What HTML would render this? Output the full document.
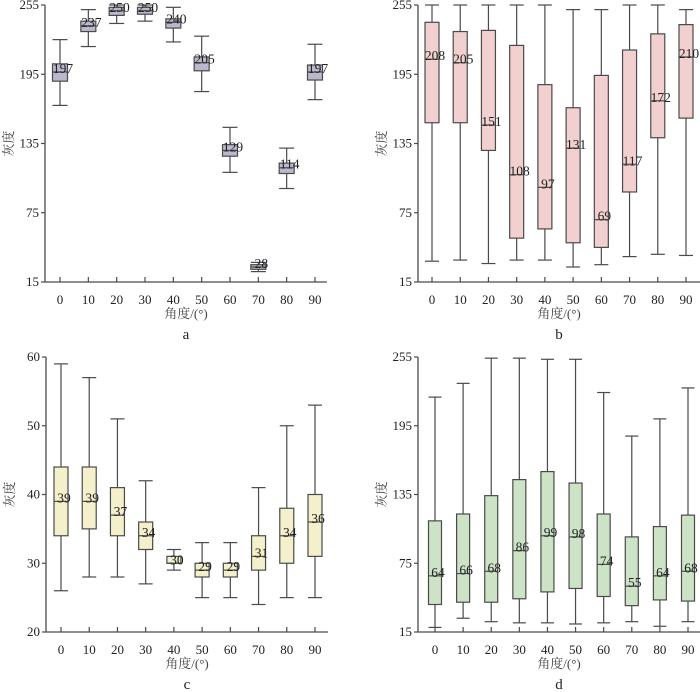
<!DOCTYPE html>
<html><head><meta charset="utf-8"><style>
html,body{margin:0;padding:0;background:#fff;}
svg{display:block;font-family:"Liberation Serif","Noto Serif CJK SC",serif;}
</style></head><body>
<svg id="chart" width="700" height="692" viewBox="0 0 700 692" xmlns="http://www.w3.org/2000/svg"></svg>
<script>
const categories = ["0","10","20","30","40","50","60","70","80","90"];
// panel a
const aHigh = [225,251,255,255,253,228,149,32,131,221];
const aQ3   = [204,241,253,253,243,210,134,30,118,203];
const aMed  = [197,237,250,250,240,205,129,28,114,197];
const aQ1   = [189,232,246,247,235,198,124,26,109,190];
const aLow  = [168,219,239,241,223,180,110,24,96,173];
const aTicks = [15,75,135,195,255];
// panel b
const bHigh = [255,255,255,255,255,251,251,255,255,251];
const bQ3   = [240,232,233,220,186,166,194,216,230,238];
const bMed  = [208,205,151,108,97,131,69,117,172,210];
const bQ1   = [153,153,129,53,61,49,45,93,140,157];
const bLow  = [33,34,31,34,34,28,30,37,39,38];
const bTicks = [15,75,135,195,255];
// panel c
const cHigh = [59,57,51,42,32,33,33,41,50,53];
const cQ3   = [44,44,41,36,31,30,30,34,38,40];
const cMed  = [39,39,37,34,30,29,29,31,34,36];
const cQ1   = [34,35,34,32,30,28,28,29,30,31];
const cLow  = [26,28,28,27,29,25,25,24,25,25];
const cTicks = [20,30,40,50,60];
// panel d
const dHigh = [220,232,254,254,253,253,224,186,201,228];
const dQ3   = [112,118,134,148,155,145,118,98,107,117];
const dMed  = [64,66,68,86,99,98,74,55,64,68];
const dQ1   = [39,41,41,44,50,53,46,38,43,42];
const dLow  = [19,27,24,23,23,22,23,24,20,24];
const dTicks = [15,75,135,195,255];

const svg = document.getElementById('chart');
const NS = 'http://www.w3.org/2000/svg';
function mk(tag, attrs, parent){
  const e = document.createElementNS(NS, tag);
  for (const k in attrs) e.setAttribute(k, attrs[k]);
  parent.appendChild(e);
  return e;
}
function panel(p){
  const g = mk('g', {}, svg);
  
  
  const y = v => p.yBot - (v - p.vMin) / (p.vMax - p.vMin) * (p.yBot - p.yTop);
  const x = i => p.x0 + i * (p.x9 - p.x0) / (categories.length - 1);
  const stroke = '#4a4a4a';
  const ya = mk('line', {x1:p.ax, y1:p.yTop, x2:p.ax, y2:p.yBot, stroke:stroke, 'stroke-width':1.3}, g);
  
  
  const xa = mk('line', {x1:p.ax, y1:p.yBot, x2:p.axEnd, y2:p.yBot, stroke:stroke, 'stroke-width':1.3}, g);
  
  
  p.ticks.forEach(t => {
    mk('line', {x1:p.ax-4, y1:y(t), x2:p.ax, y2:y(t), stroke:stroke, 'stroke-width':1.2}, g);
    const tl = mk('text', {x:p.ax-6, y:y(t)+4, 'text-anchor':'end', 'font-size':13, fill:'#222'}, g);
    tl.textContent = t;
    
    
  });
  categories.forEach((c, i) => {
    mk('line', {x1:x(i), y1:p.yBot-5, x2:x(i), y2:p.yBot, stroke:stroke, 'stroke-width':1.2}, g);
    const tl = mk('text', {x:x(i), y:p.yBot+22, 'text-anchor':'middle', 'font-size':13, fill:'#222'}, g);
    tl.textContent = c;
    
    
  });
  const xl = mk('text', {x:(p.ax+p.axEnd)/2, y:p.yBot+36, 'text-anchor':'middle', 'font-size':13, fill:'#444'}, g);
  xl.textContent = '角度/(°)';
  
  
  const yl = mk('text', {x:0, y:0, 'text-anchor':'middle', 'font-size':13, fill:'#444', transform:`translate(${p.ax-32},${(p.yTop+p.yBot)/2}) rotate(-90)`}, g);
  yl.textContent = '灰度';
  
  
  const cap = mk('text', {x:(p.ax+p.axEnd)/2, y:p.yBot+57, 'text-anchor':'middle', 'font-size':15, fill:'#222'}, g);
  cap.textContent = p.id;
  
  
  const bw = p.bw;
  categories.forEach((c, i) => {
    const bg = mk('g', {}, g);
    
    
    const cx = x(i);
    mk('line', {x1:cx, y1:y(p.high[i]), x2:cx, y2:y(p.low[i]), stroke:stroke, 'stroke-width':1.2}, bg);
    mk('line', {x1:cx-bw/2, y1:y(p.high[i]), x2:cx+bw/2, y2:y(p.high[i]), stroke:stroke, 'stroke-width':1.2}, bg);
    mk('line', {x1:cx-bw/2, y1:y(p.low[i]), x2:cx+bw/2, y2:y(p.low[i]), stroke:stroke, 'stroke-width':1.2}, bg);
    mk('rect', {x:cx-bw/2, y:y(p.q3[i]), width:bw, height:Math.max(1, y(p.q1[i])-y(p.q3[i])), fill:p.fill, stroke:stroke, 'stroke-width':1.2}, bg);
    mk('line', {x1:cx-bw/2, y1:y(p.med[i]), x2:cx+bw/2, y2:y(p.med[i]), stroke:stroke, 'stroke-width':1.2}, bg);
    const ml = mk('text', {x:cx+3, y:y(p.med[i])+1, 'text-anchor':'middle', 'font-size':13.5, fill:'#222'}, bg);
    ml.textContent = p.med[i];
    
    
  });
}
panel({id:'a', ax:45, axEnd:327, yTop:5, yBot:282, vMin:15, vMax:255, x0:60, x9:315, bw:15, fill:'#b9b8cc', ticks:aTicks, high:aHigh, q3:aQ3, med:aMed, q1:aQ1, low:aLow});
panel({id:'b', ax:418, axEnd:700, yTop:5, yBot:282, vMin:15, vMax:255, x0:432, x9:686, bw:14, fill:'#f2d0d0', ticks:bTicks, high:bHigh, q3:bQ3, med:bMed, q1:bQ1, low:bLow});
panel({id:'c', ax:46, axEnd:328, yTop:357, yBot:632, vMin:20, vMax:60, x0:61, x9:315, bw:14, fill:'#f5f0cc', ticks:cTicks, high:cHigh, q3:cQ3, med:cMed, q1:cQ1, low:cLow});
panel({id:'d', ax:418, axEnd:700, yTop:357, yBot:632, vMin:15, vMax:255, x0:435, x9:688, bw:13, fill:'#cde3c6', ticks:dTicks, high:dHigh, q3:dQ3, med:dMed, q1:dQ1, low:dLow});
</script>
</body></html>
